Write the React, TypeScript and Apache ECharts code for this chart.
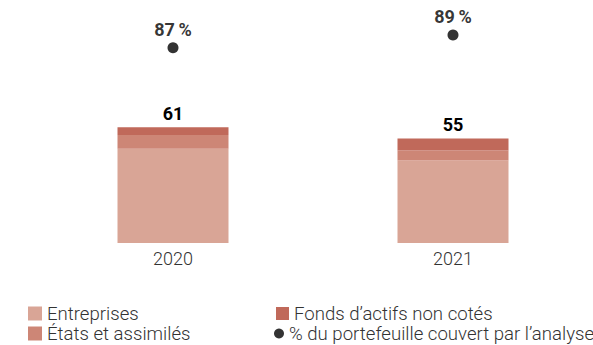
import React, { useEffect, useRef } from "react";
import * as echarts from "echarts";

const categories = ["2020", "2021"];
const entreprises = [49.6, 43.4];
const etats = [7.2, 5.3];
const fonds = [4.2, 6.3];
const totals = [61, 55];
const couverture = [87, 89];

const C_ENT = "#D9A596";
const C_ETA = "#CD8676";
const C_FON = "#C0695A";
const FONT = "Roboto";

const legendText = { fontSize: 18.6, fontWeight: 300, color: "#333", fontFamily: FONT, lineHeight: 18 };

function oneLegend(name: string, left: number, top: number, icon: string, size: number) {
  return {
    orient: "vertical",
    left,
    top,
    padding: 0,
    itemWidth: size,
    itemHeight: size,
    icon,
    textStyle: legendText,
    data: [name],
  };
}

export default function App() {
  const ref = useRef<HTMLDivElement>(null);
  useEffect(() => {
    if (!ref.current) return;
    const chart = echarts.init(ref.current, undefined, { renderer: "svg" });
    chart.setOption({
      animation: false,
      textStyle: { fontFamily: FONT },
      grid: { left: 33, width: 562, top: 20, height: 223 },
      xAxis: {
        type: "category",
        data: categories,
        axisLine: { show: false },
        axisTick: { show: false },
        axisLabel: { fontSize: 18, fontWeight: 300, color: "#333", margin: 6, fontFamily: FONT },
      },
      yAxis: [
        { type: "value", min: 0, max: 117.4, show: false },
        { type: "value", min: 56.26, max: 91.36, show: false },
      ],
      legend: [
        oneLegend("Entreprises", 28, 304, "rect", 14),
        oneLegend("États et assimilés", 28, 324, "rect", 14),
        oneLegend("Fonds d’actifs non cotés", 276, 304, "rect", 13),
        oneLegend("% du portefeuille couvert par l’analyse", 274, 324, "circle", 10),
      ],
      series: [
        {
          name: "Entreprises",
          type: "bar",
          stack: "t",
          barWidth: 111,
          data: entreprises,
          itemStyle: { color: C_ENT },
        },
        {
          name: "États et assimilés",
          type: "bar",
          stack: "t",
          barWidth: 111,
          data: etats,
          itemStyle: { color: C_ETA },
        },
        {
          name: "Fonds d’actifs non cotés",
          type: "bar",
          stack: "t",
          barWidth: 111,
          data: fonds,
          itemStyle: { color: C_FON },
          label: {
            show: true,
            position: "top",
            distance: 5,
            formatter: (p: any) => String(totals[p.dataIndex]),
            fontSize: 18,
            fontWeight: 700,
            color: "#000",
            fontFamily: FONT,
          },
        },
        {
          name: "% du portefeuille couvert par l’analyse",
          type: "scatter",
          yAxisIndex: 1,
          symbol: "circle",
          symbolSize: 11,
          data: couverture,
          itemStyle: { color: "#000" },
          label: {
            show: true,
            position: "top",
            distance: 4,
            formatter: (p: any) => `${p.value}\u2009%`,
            fontSize: 18,
            fontWeight: 700,
            color: "#000",
            fontFamily: FONT,
          },
        },
      ],
    });
    return () => chart.dispose();
  }, []);
  return (
    <div
      ref={ref}
      style={{ position: "fixed", left: 0, top: 0, width: 593, height: 345, background: "#fff" }}
    />
  );
}
